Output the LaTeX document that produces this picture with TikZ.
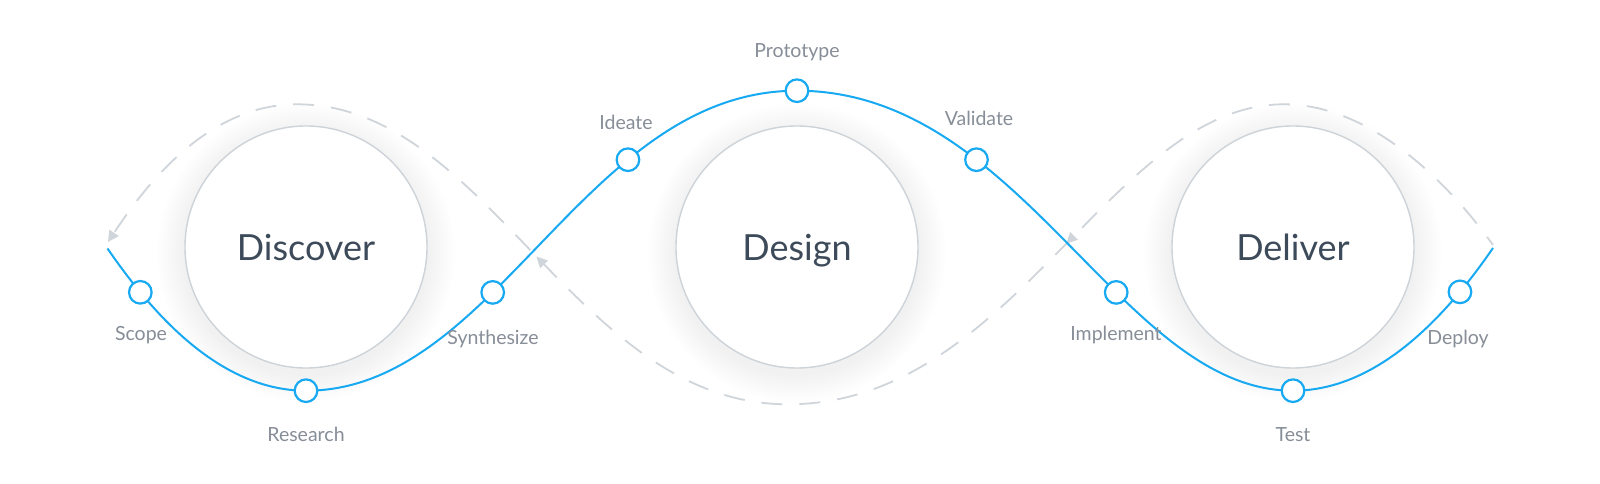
\documentclass[tikz,border=0pt]{standalone}
\usepackage{fontspec}
\setmainfont{Lato}
\usetikzlibrary{arrows.meta,shapes.geometric}
\definecolor{flowblue}{HTML}{17A9F1}
\definecolor{dashgray}{HTML}{CFD5DA}
\definecolor{ringgray}{HTML}{CDD3D8}
\definecolor{labelgray}{HTML}{878E98}
\definecolor{titleink}{HTML}{3D4A5A}
\begin{document}
\begin{tikzpicture}[x=1pt,y=-1pt,
  blueline/.style={draw=flowblue, line width=2pt},
  loopline/.style={draw=dashgray, line width=1.8pt, dash pattern=on 21pt off 17pt, dash phase=11pt},
  bigcirc/.style={circle, draw=ringgray, line width=1.4pt, fill=white, minimum size=242pt, inner sep=0pt,
    text=titleink, font=\fontsize{36}{40}\selectfont, text height=26pt, text depth=0pt},
  stagedot/.style={circle, draw=flowblue, line width=2.2pt, fill=white, minimum size=22.6pt, inner sep=0pt},
  stagelabel/.style={text=labelgray, font=\fontsize{19.5}{22}\selectfont, anchor=base, inner sep=0pt},
  flowtip/.style={isosceles triangle, isosceles triangle stretches, fill=dashgray, draw=none,
    minimum width=11pt, minimum height=11pt, inner sep=0pt, sloped, allow upside down},
]
\useasboundingbox (0,0) rectangle (1600,484);
\fill[white] (0,0) rectangle (1600,484);

% centres
\coordinate (cDis) at (306,247);
\coordinate (cDes) at (797,247);
\coordinate (cDel) at (1293,247);

% soft shadows
\foreach \c in {cDis,cDes,cDel}{
  \foreach \r in {123,125,...,149}{
    \fill[black, opacity=0.003] ([yshift=-6pt]\c) circle[radius=\r pt];
  }
}

% big circles
\node[bigcirc] (discover) at (cDis) {Discover};
\node[bigcirc] (design) at (cDes) {Design};
\node[bigcirc] (deliver) at (cDel) {Deliver};

% dashed return loop
\coordinate (dRight) at (1493,245);
\coordinate (dTopR) at (1284,104.3);
\coordinate (dBot) at (788,404.3);
\coordinate (dTopL) at (297,104.3);
\coordinate (dLeft) at (108,242);
\draw[loopline, -{Triangle[length=11pt, width=11pt]}]
  (dRight) .. controls (1453,189) and (1374,104.3) .. (dTopR)
  .. controls (1111.4,104.3) and (1013.6,404.3) .. (dBot) node[flowtip, pos=.4645] (tipR) {}
  .. controls (575,404.3) and (488.2,104.3) .. (dTopL) node[flowtip, pos=.483] (tipL) {}
  .. controls (207,104.3) and (145,186) .. (dLeft);

% blue process line
\coordinate (bStart) at (107.5,248.5);
\coordinate (bBot1) at (306,390.7);
\coordinate (bTop) at (797,90.7);
\coordinate (bBot2) at (1293,390.7);
\coordinate (bEnd) at (1493,248);
\draw[blueline]
  (bStart) .. controls (147.5,306.5) and (216,390.7) .. (bBot1)
     node[stagedot, pos=.235] (scope) {} node[stagedot, pos=1] (research) {}
  .. controls (497.2,390.7) and (584,90.7) .. (bTop)
     node[stagedot, pos=.383] (synth) {} node[stagedot, pos=.689] (ideate) {} node[stagedot, pos=1] (proto) {}
  .. controls (1022.6,90.7) and (1120.4,390.7) .. (bBot2)
     node[stagedot, pos=.311] (valid) {} node[stagedot, pos=.617] (impl) {} node[stagedot, pos=1] (test) {}
  .. controls (1383,390.7) and (1453,306) .. (bEnd)
     node[stagedot, pos=.765] (deploy) {};

% labels
\node[stagelabel] (lScope) at (141,340) {Scope};
\node[stagelabel] (lResearch) at (306,441) {Research};
\node[stagelabel] (lSynth) at (493,344) {Synthesize};
\node[stagelabel] (lIdeate) at (626,130) {Ideate};
\node[stagelabel] (lProto) at (797,57.3) {Prototype};
\node[stagelabel] (lValid) at (979,126) {Validate};
\node[stagelabel] (lImpl) at (1116,340) {Implement};
\node[stagelabel] (lTest) at (1293,441) {Test};
\node[stagelabel] (lDeploy) at (1458,344) {Deploy};
\end{tikzpicture}
\end{document}
